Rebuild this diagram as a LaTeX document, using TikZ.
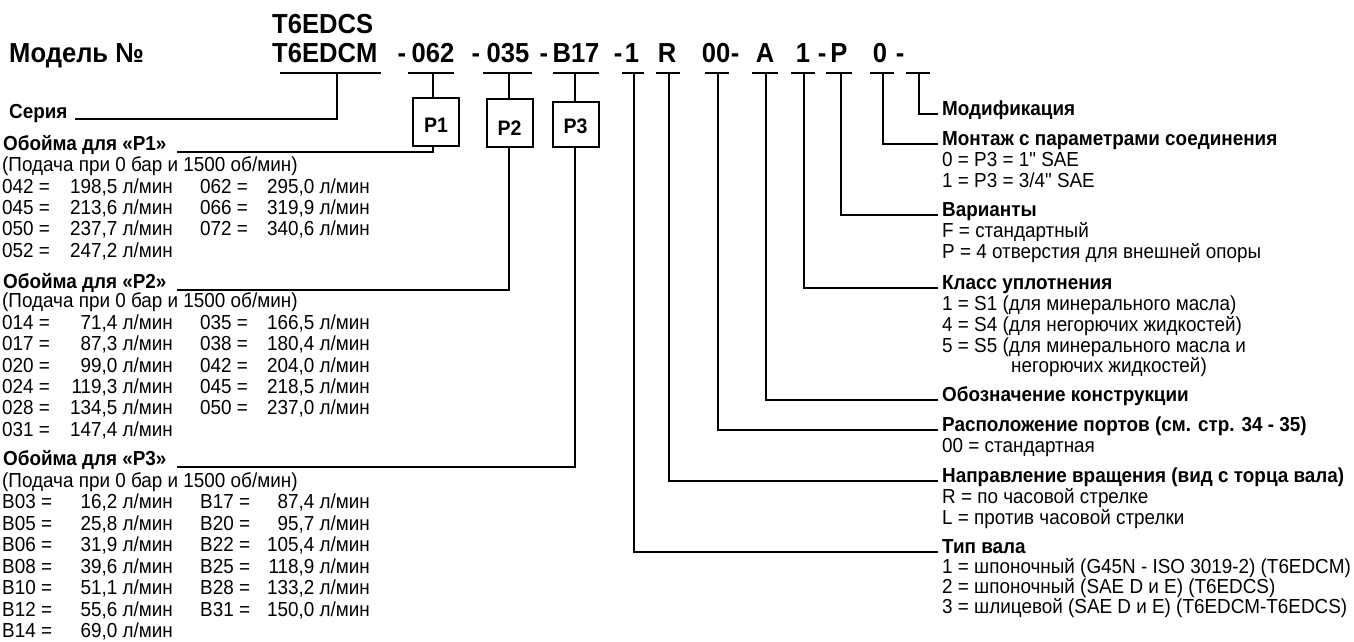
\documentclass[tikz,border=0pt]{standalone}
\usepackage{fontspec}
\setmainfont{Liberation Sans}[Ligatures=TeXOff]
\newfontfamily\narrowf{Liberation Sans}[Ligatures=TeXOff,FakeStretch=0.93]
\newcommand\lrowB[6]{%
  \node[bd] (#1a) at (2,#2) {#3};
  \node[bd,anchor=base east] (#1b) at (173,#2) {#4};
  \node[bd] (#1c) at (200,#2) {#5};
  \node[bd,anchor=base east] (#1d) at (370,#2) {#6};}
\newcommand\lrowA[4]{%
  \node[bd] (#1a) at (2,#2) {#3};
  \node[bd,anchor=base east] (#1b) at (173,#2) {#4};}
\begin{document}
\begin{tikzpicture}[x=1pt,y=-1pt,
  hdr/.style={font=\narrowf\bfseries\fontsize{27.5}{30}\selectfont,inner sep=0pt,anchor=base},
  bd/.style={font=\narrowf\fontsize{20.3}{22}\selectfont,inner sep=0pt,anchor=base west},
  bb/.style={font=\narrowf\bfseries\fontsize{20.3}{22}\selectfont,inner sep=0pt,anchor=base west},
  ln/.style={line width=1.1pt},
  pbox/.style={draw,line width=2pt,minimum width=46pt,inner sep=0pt},
  ptxt/.style={font=\narrowf\bfseries\fontsize{21}{24}\selectfont,inner sep=0pt,anchor=base}]
\useasboundingbox (0,0) rectangle (1354,641);

% ---------- header ----------
\node[hdr,anchor=base west] (model) at (9,62) {Модель №};
\node[hdr,anchor=base west] (ts) at (272,33) {T6EDCS};
\node[hdr,anchor=base west] (tm) at (272,62) {T6EDCM};
\node[hdr] (d1) at (402,62) {-};
\node[hdr] (h062) at (433,62) {062};
\node[hdr] (d2) at (476,62) {-};
\node[hdr] (h035) at (508,62) {035};
\node[hdr] (d3) at (544,62) {-};
\node[hdr] (hB17) at (576,62) {B17};
\node[hdr] (d4) at (618,62) {-};
\node[hdr] (h1) at (632,62) {1};
\node[hdr] (hR) at (667,62) {R};
\node[hdr] (h00) at (716,62) {00};
\node[hdr] (d5) at (735,62) {-};
\node[hdr] (hA) at (765,62) {A};
\node[hdr] (h1b) at (803,62) {1};
\node[hdr] (d6) at (822,62) {-};
\node[hdr] (hP) at (839,62) {P};
\node[hdr] (h0) at (880,62) {0};
\node[hdr] (d7) at (900,62) {-};

% underlines
\draw[ln] (280,73) -- (381,73);
\draw[ln] (408,73) -- (454,73);
\draw[ln] (483,73) -- (532,73);
\draw[ln] (553,73) -- (599,73);
\draw[ln] (622,73) -- (644,73);
\draw[ln] (656,73) -- (680,73);
\draw[ln] (705,73) -- (729,73);
\draw[ln] (752,73) -- (778,73);
\draw[ln] (791,73) -- (815,73);
\draw[ln] (826,73) -- (852,73);
\draw[ln] (870,73) -- (894,73);
\draw[ln] (906,73) -- (930,73);

\coordinate (uT) at (337,73);
\coordinate (u062) at (433,73);
\coordinate (u035) at (509,73);
\coordinate (uB17) at (575,73);
\coordinate (u1) at (634,73);
\coordinate (uR) at (669,73);
\coordinate (u00) at (718,73);
\coordinate (uA) at (766,73);
\coordinate (u1b) at (804,73);
\coordinate (uP) at (841,73);
\coordinate (u0) at (883,73);
\coordinate (uL) at (919,73);

% P boxes
\node[pbox,minimum height=48pt] (P1) at (436,122) {};
\node[pbox,minimum height=48pt] (P2) at (509.5,123) {};
\node[pbox,minimum height=45pt] (P3) at (575.5,124.5) {};
\node[ptxt] (P1t) at (436,132) {P1};
\node[ptxt] (P2t) at (509.5,135) {P2};
\node[ptxt] (P3t) at (575.5,133) {P3};

% ---------- left column ----------
\node[bb] (seria) at (9,118) {Серия};

\node[bb] (o1) at (3,150) {Обойма для «P1»};
\node[bd] (s1) at (2,171) {(Подача при 0 бар и 1500 об/мин)};
\lrowB{ra}{193}{042 =}{198,5 л/мин}{062 =}{295,0 л/мин}
\lrowB{rb}{214}{045 =}{213,6 л/мин}{066 =}{319,9 л/мин}
\lrowB{rc}{235.5}{050 =}{237,7 л/мин}{072 =}{340,6 л/мин}
\lrowA{rd}{257}{052 =}{247,2 л/мин}

\node[bb] (o2) at (3,288) {Обойма для «P2»};
\node[bd] (s2) at (2,307) {(Подача при 0 бар и 1500 об/мин)};
\lrowB{qa}{329}{014 =}{71,4 л/мин}{035 =}{166,5 л/мин}
\lrowB{qb}{350.5}{017 =}{87,3 л/мин}{038 =}{180,4 л/мин}
\lrowB{qc}{372}{020 =}{99,0 л/мин}{042 =}{204,0 л/мин}
\lrowB{qd}{393}{024 =}{119,3 л/мин}{045 =}{218,5 л/мин}
\lrowB{qe}{414.5}{028 =}{134,5 л/мин}{050 =}{237,0 л/мин}
\lrowA{qf}{436}{031 =}{147,4 л/мин}

\node[bb] (o3) at (3,465) {Обойма для «P3»};
\node[bd] (s3) at (2,487) {(Подача при 0 бар и 1500 об/мин)};
\lrowB{pa}{508.5}{B03 =}{16,2 л/мин}{B17 =}{87,4 л/мин}
\lrowB{pb}{530}{B05 =}{25,8 л/мин}{B20 =}{95,7 л/мин}
\lrowB{pc}{551.5}{B06 =}{31,9 л/мин}{B22 =}{105,4 л/мин}
\lrowB{pd}{573}{B08 =}{39,6 л/мин}{B25 =}{118,9 л/мин}
\lrowB{pe}{594.5}{B10 =}{51,1 л/мин}{B28 =}{133,2 л/мин}
\lrowB{pf}{616}{B12 =}{55,6 л/мин}{B31 =}{150,0 л/мин}
\lrowA{pg}{637.5}{B14 =}{69,0 л/мин}

% ---------- right column ----------
\node[bb] (mod) at (942,115) {Модификация};
\node[bb] (mon) at (942,145) {Монтаж с параметрами соединения};
\node[bd] (mon1) at (942,166) {0 = P3 = 1" SAE};
\node[bd] (mon2) at (942,187) {1 = P3 = 3/4" SAE};
\node[bb] (var) at (942,216) {Варианты};
\node[bd] (var1) at (942,237) {F = стандартный};
\node[bd] (var2) at (942,258) {P = 4 отверстия для внешней опоры};
\node[bb] (kl) at (942,289) {Класс уплотнения};
\node[bd] (kl1) at (942,310) {1 = S1 (для минерального масла)};
\node[bd] (kl2) at (942,331) {4 = S4 (для негорючих жидкостей)};
\node[bd] (kl3) at (942,352) {5 = S5 (для минерального масла и};
\node[bd] (kl4) at (1011,372) {негорючих жидкостей)};
\node[bb] (ob) at (942,401) {Обозначение конструкции};
\node[bb] (ras) at (942,431) {Расположение портов (см. стр. 34 - 35)};
\node[bd] (ras1) at (942,452) {00 = стандартная};
\node[bb] (nap) at (942,482) {Направление вращения (вид с торца вала)};
\node[bd] (nap1) at (942,503) {R = по часовой стрелке};
\node[bd] (nap2) at (942,524) {L = против часовой стрелки};
\node[bb] (tip) at (942,553) {Тип вала};
\node[bd] (tip1) at (942,573) {1 = шпоночный (G45N - ISO 3019-2) (T6EDCM)};
\node[bd] (tip2) at (942,593) {2 = шпоночный (SAE D и E) (T6EDCS)};
\node[bd] (tip3) at (942,613) {3 = шлицевой (SAE D и E) (T6EDCM-T6EDCS)};

% ---------- connectors ----------
\draw[ln] (uT) |- ([xshift=7pt,yshift=-1pt]seria.base east);
\draw[ln] (u062) -- (u062 |- P1.north);
\draw[ln] (u035) -- (u035 |- P2.north);
\draw[ln] (uB17) -- (uB17 |- P3.north);
\draw[ln] (u062 |- P1.south) |- ([xshift=10pt,yshift=-2pt]o1.base east);
\draw[ln] (u035 |- P2.south) |- ([xshift=10pt,yshift=-2pt]o2.base east);
\draw[ln] (uB17 |- P3.south) |- ([xshift=10pt,yshift=-2pt]o3.base east);

\draw[ln] (uL) |- ([xshift=-4pt,yshift=1pt]mod.base west);
\draw[ln] (u0) |- ([xshift=-4pt,yshift=1pt]mon.base west);
\draw[ln] (uP) |- ([xshift=-4pt,yshift=1pt]var.base west);
\draw[ln] (u1b) |- ([xshift=-4pt,yshift=1pt]kl.base west);
\draw[ln] (uA) |- ([xshift=-4pt,yshift=1pt]ob.base west);
\draw[ln] (u00) |- ([xshift=-4pt,yshift=1pt]ras.base west);
\draw[ln] (uR) |- ([xshift=-4pt,yshift=1pt]nap.base west);
\draw[ln] (u1) |- ([xshift=-4pt,yshift=1pt]tip.base west);
\end{tikzpicture}
\end{document}
